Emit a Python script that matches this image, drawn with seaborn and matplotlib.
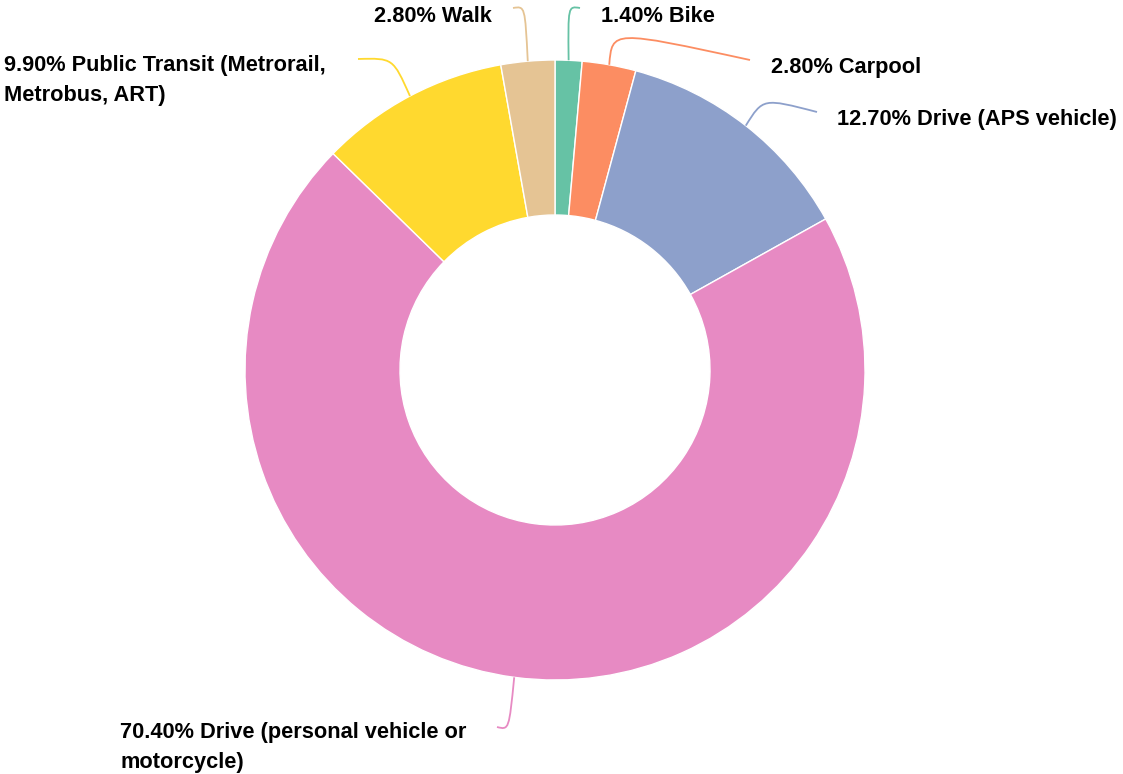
import seaborn as sns
import matplotlib.pyplot as plt
from matplotlib.path import Path
from matplotlib.patches import PathPatch
import numpy as np

# data (clockwise from 12 o'clock)
modes = ["Bike", "Carpool", "Drive (APS vehicle)",
         "Drive (personal vehicle or\nmotorcycle)",
         "Public Transit (Metrorail,\nMetrobus, ART)", "Walk"]
shares = [1.4, 2.8, 12.7, 70.4, 9.9, 2.8]
color_idx = [0, 1, 2, 3, 5, 6]

# label layout in pixels: (text x, baseline y of last line, ha, elbow, line end)
layout = [
    (601, 21.5, "left", (568, 6), (580, 8)),
    (771, 73, "left", (612, 30), (750, 60)),
    (837, 124.5, "left", (763, 98), (817, 112)),
    (120, 768, "left", (509, 730), (497, 727)),
    (4, 101, "left", (393, 58), (358, 59)),
    (492, 21.5, "right", (525, 6), (513, 8)),
]

W, H = 1123, 774
cx, cy, R = 555, 370, 310

sns.set_theme(style="white")
plt.rcParams['font.family'] = ['Liberation Sans', 'DejaVu Sans']
pal = sns.color_palette("Set2")
colors = [pal[i] for i in color_idx]

fig = plt.figure(figsize=(W / 100, H / 100), dpi=100)
ax = fig.add_axes([0, 0, 1, 1])

wedges, _ = ax.pie(shares, colors=colors, startangle=90, counterclock=False,
                   radius=1, wedgeprops=dict(width=0.5, edgecolor="white", linewidth=1))

ax.set_xlim(-cx / R, (W - cx) / R)
ax.set_ylim(-(H - cy) / R, cy / R)
ax.set_aspect("equal")
ax.axis("off")


def px(x, y):
    return ((x - cx) / R, (cy - y) / R)


for w, m, s, c, (tx, ty, ha, elbow, end) in zip(wedges, modes, shares, colors, layout):
    ang = np.deg2rad((w.theta1 + w.theta2) / 2)
    p0 = (np.cos(ang), np.sin(ang))
    e = px(*elbow)
    p3 = px(*end)
    path = Path([p0, e, e, p3], [Path.MOVETO, Path.CURVE4, Path.CURVE4, Path.CURVE4])
    ax.add_patch(PathPatch(path, facecolor="none", edgecolor=c, lw=1.3))
    ax.text(*px(tx, ty), f"{s:.2f}% {m}", ha=ha, va="baseline",
            fontsize=15.7, fontweight="bold", color="black", linespacing=1.55)

fig.savefig("out.png", dpi=100)
